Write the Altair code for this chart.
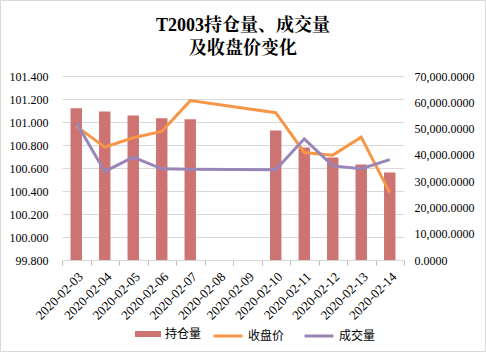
import altair as alt
import pandas as pd

# ---- data ----
dates = ["2020-02-03", "2020-02-04", "2020-02-05", "2020-02-06", "2020-02-07", "2020-02-08",
         "2020-02-09", "2020-02-10", "2020-02-11", "2020-02-12", "2020-02-13", "2020-02-14"]
open_interest = [57700, 56500, 55000, 53900, 53500, None, None, 49300, 42800, 39000, 36300, 33300]
close_price = [100.964, 100.781, 100.863, 100.918, 101.186, None, None, 101.081, 100.735, 100.712, 100.868, 100.386]
volume = [52300, 33700, 39100, 34700, 34500, None, None, 34300, 46100, 35800, 34700, 38200]
left_ticks = [99.8, 100.0, 100.2, 100.4, 100.6, 100.8, 101.0, 101.2, 101.4]
right_ticks = [0, 10000, 20000, 30000, 40000, 50000, 60000, 70000]
title_lines = ["T2003持仓量、成交量", "及收盘价变化"]
series_names = ["持仓量", "收盘价", "成交量"]
series_colors = ["#CD7371", "#F79646", "#9A85B8"]

SERIF = "Liberation Serif, Noto Serif CJK SC, Noto Sans CJK SC"
CJK = "Noto Sans CJK SC"

df = pd.DataFrame({"date": dates, "oi": open_interest, "close": close_price, "vol": volume})
base = alt.Chart(df)

x_enc = alt.X(
    "date:N", sort=None,
    scale=alt.Scale(domain=dates, paddingInner=0, paddingOuter=0),
    axis=alt.Axis(title=None, labelAngle=-45, tickBand="extent", domainColor="#d9d9d9",
                  tickColor="#bfbfbf", tickSize=5, labelFont=SERIF, labelFontSize=13,
                  labelColor="#000000", labelPadding=5),
)

bars = base.transform_filter("isValid(datum.oi)").transform_calculate(s="'持仓量'").mark_bar(
    width={"band": 0.4}
).encode(
    x=x_enc,
    y=alt.Y("oi:Q", scale=alt.Scale(domain=[0, 70000], nice=False, zero=True),
            axis=alt.Axis(orient="right", title=None, values=right_ticks, format=",.4f",
                          grid=False, domain=False, ticks=False, labelPadding=10,
                          labelFont=SERIF, labelFontSize=12, labelColor="#000000")),
    fill=alt.Fill("s:N", scale=alt.Scale(domain=[series_names[0]], range=[series_colors[0]]),
                  legend=alt.Legend(orient="none", legendX=73, legendY=245, title=None,
                                    direction="horizontal", symbolType="M-1,-0.23H1V0.23H-1Z",
                                    symbolSize=676, symbolStrokeWidth=0, labelFont=CJK,
                                    labelFontSize=12, labelColor="#000000", labelOffset=4,
                                    padding=0)),
)

stroke_legend = alt.Legend(orient="none", legendX=150, legendY=244, title=None,
                           direction="horizontal", symbolType="stroke", symbolSize=841,
                           symbolStrokeWidth=3, labelFont=CJK, labelFontSize=12,
                           labelColor="#000000", labelOffset=4, columnPadding=13, padding=0)
stroke_scale = alt.Scale(domain=series_names[1:], range=series_colors[1:])

close_line = base.transform_filter("isValid(datum.close)").transform_calculate(s="'收盘价'").mark_line(
    strokeWidth=3
).encode(
    x=x_enc,
    y=alt.Y("close:Q", scale=alt.Scale(domain=[99.8, 101.4], nice=False, zero=False),
            axis=alt.Axis(orient="left", title=None, values=left_ticks, format=".3f",
                          grid=True, gridColor="#d9d9d9", domain=False, ticks=False,
                          labelPadding=14, labelFont=SERIF, labelFontSize=12,
                          labelColor="#000000")),
    stroke=alt.Stroke("s:N", scale=stroke_scale, legend=stroke_legend),
)

vol_line = base.transform_filter("isValid(datum.vol)").transform_calculate(s="'成交量'").mark_line(
    strokeWidth=3
).encode(
    x=x_enc,
    y=alt.Y("vol:Q", scale=alt.Scale(domain=[0, 70000], nice=False, zero=True), axis=None),
    stroke=alt.Stroke("s:N", scale=stroke_scale, legend=stroke_legend),
)

border = alt.Chart(pd.DataFrame({"k": [0]})).mark_rect(
    filled=False, stroke="#d9d9d9", strokeWidth=1
).encode(x=alt.value(-61.5), x2=alt.value(423.5), y=alt.value(-75.5), y2=alt.value(275.5))

chart = alt.layer(border, bars, close_line, vol_line).resolve_scale(
    y="independent"
).properties(
    width=342, height=184,
    padding={"left": 62, "top": 76, "right": 82, "bottom": 92},
    autosize=alt.AutoSizeParams(type="none"),
    title=alt.TitleParams(text=title_lines, fontSize=18, font=SERIF, fontWeight="bold",
                          anchor="middle", frame="group", dx=10, offset=-58, lineHeight=23,
                          color="#000000"),
    background="white",
).configure_view(stroke=None)

chart.save("out.html", embed_options={"renderer": "svg", "actions": False})
